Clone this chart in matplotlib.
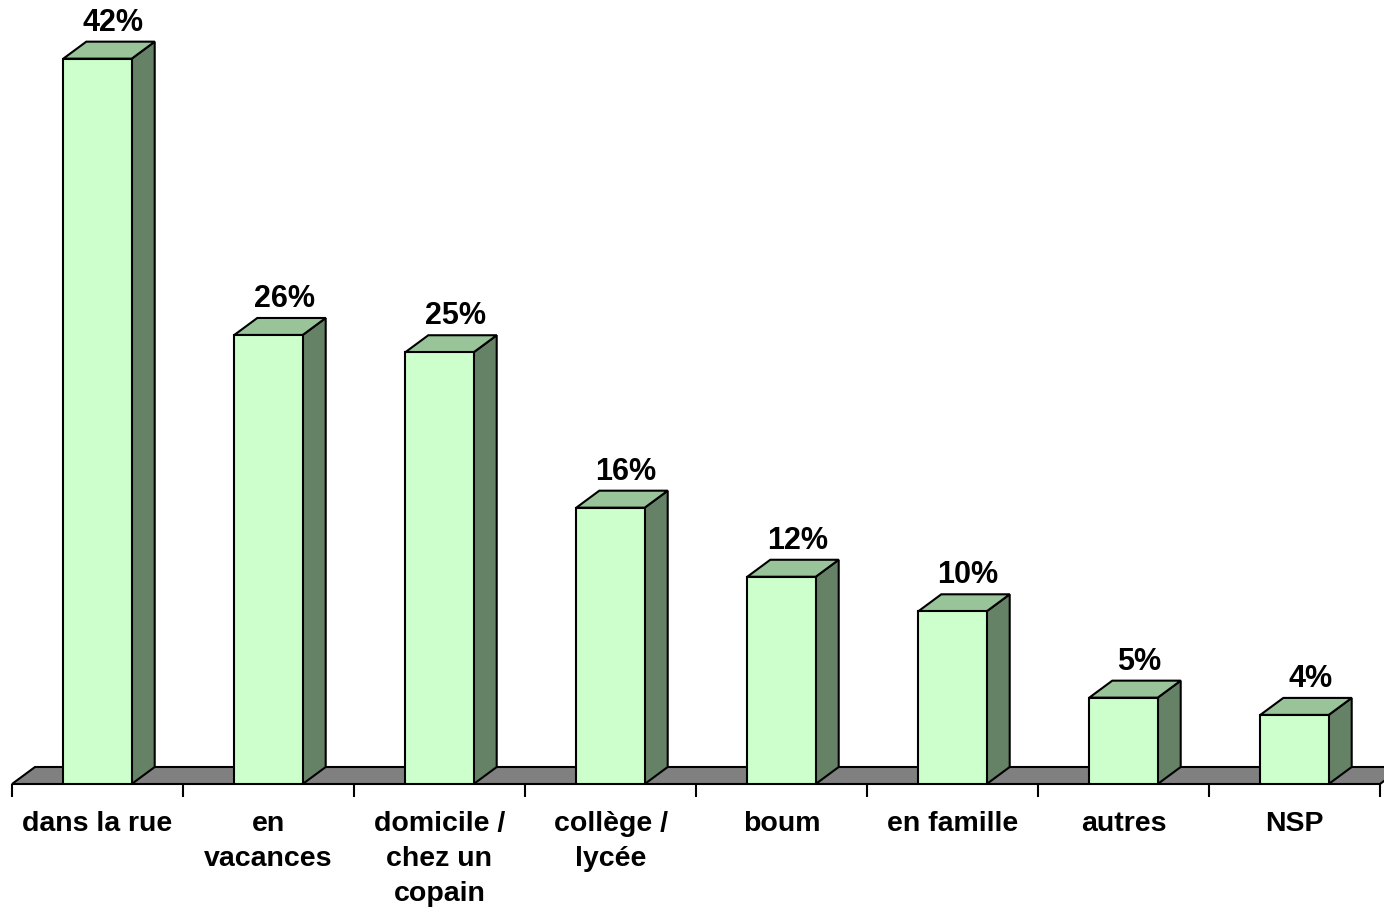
import matplotlib
matplotlib.use("Agg")
import matplotlib.pyplot as plt
from matplotlib.patches import Polygon
import numpy as np

plt.rcParams['font.family'] = ['Liberation Sans', 'DejaVu Sans']

categories = ["dans la rue", "en\nvacances", "domicile /\nchez un\ncopain",
              "collège /\nlycée", "boum", "en famille", "autres", "NSP"]
values = [42, 26, 25, 16, 12, 10, 5, 4]
value_labels = ["42%", "26%", "25%", "16%", "12%", "10%", "5%", "4%"]

front_col = "#CCFFCC"
top_col = "#99C499"
side_col = "#668266"
floor_col = "#808080"

W, H = 1384, 909
px_per_cat = 171.0
px_per_pct = 17.27
depth_px = (23, 17)

fig = plt.figure(figsize=(W / 100, H / 100), dpi=100)
ax = fig.add_axes([12 / W, 125 / H, 1368 / W, 784 / H])
ax.set_xlim(-0.5, len(categories) - 0.5)
ax.set_ylim(0, 784 / px_per_pct)

dx = depth_px[0] / px_per_cat
dy = depth_px[1] / px_per_pct
w = 0.4
x = np.arange(len(categories))

# floor
n = len(categories)
floor = Polygon([(-0.5, 0), (n - 0.5, 0), (n - 0.5 + dx, dy), (-0.5 + dx, dy)],
                closed=True, facecolor=floor_col, edgecolor="black", lw=1.5,
                zorder=1, clip_on=False)
ax.add_patch(floor)

for xi, v in zip(x, values):
    side = Polygon([(xi + w / 2, 0), (xi + w / 2 + dx, dy),
                    (xi + w / 2 + dx, v + dy), (xi + w / 2, v)],
                   closed=True, facecolor=side_col, edgecolor="black",
                   lw=1.5, zorder=2, joinstyle="miter")
    top = Polygon([(xi - w / 2, v), (xi + w / 2, v),
                   (xi + w / 2 + dx, v + dy), (xi - w / 2 + dx, v + dy)],
                  closed=True, facecolor=top_col, edgecolor="black",
                  lw=1.5, zorder=2, joinstyle="miter")
    ax.add_patch(side)
    ax.add_patch(top)

ax.bar(x, values, width=w, color=front_col, edgecolor="black", lw=1.5, zorder=3)

for xi, v, lab in zip(x, values, value_labels):
    ax.annotate(lab, (xi + dx / 2, v + dy), xytext=(3, 8),
                textcoords="offset points", ha="center", va="baseline",
                fontsize=22, fontweight="bold", zorder=4)

for s in ax.spines.values():
    s.set_visible(False)

ax.set_yticks([])
ax.set_xticks(x)
ax.set_xticklabels(categories, fontsize=20.5, fontweight="bold", linespacing=1.46)
ax.set_xticks(np.arange(-0.5, n, 1.0), minor=True)
ax.tick_params(axis="x", which="major", length=0, pad=19.5)
ax.tick_params(axis="x", which="minor", length=9.5, width=1.5, direction="out")

fig.savefig("out.png", dpi=100)
